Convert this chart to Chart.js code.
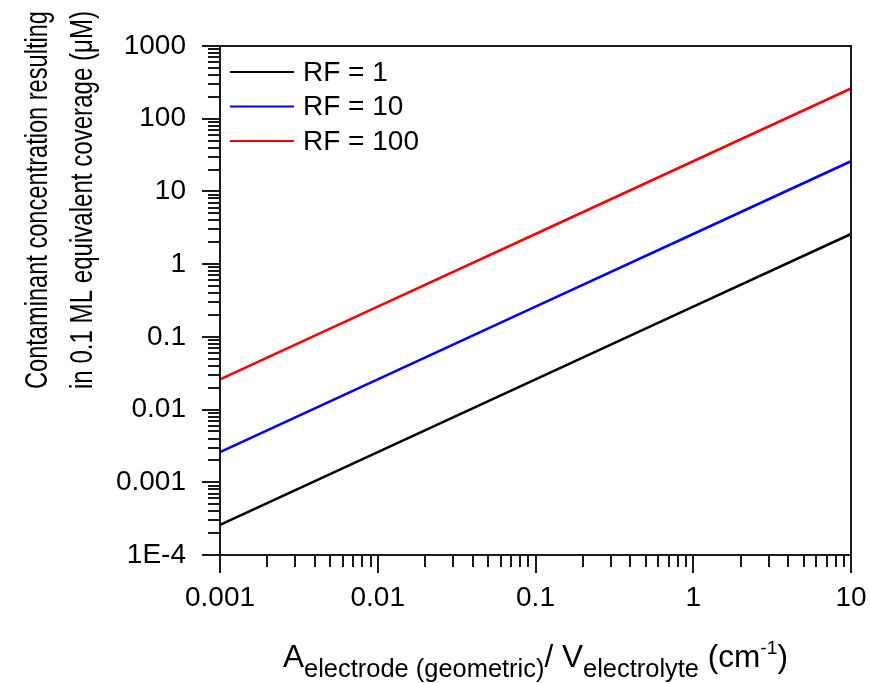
<!DOCTYPE html>
<html>
<head>
<meta charset="utf-8">
<script src="https://cdn.jsdelivr.net/npm/chart.js@4/dist/chart.umd.min.js"></script>
<style>
  html, body { margin: 0; padding: 0; background: #fff; }
  #wrap { width: 870px; height: 683px; }
</style>
</head>
<body>
<div id="wrap"><canvas id="c" width="870" height="683"></canvas></div>
<script>
// x values (A/V, cm^-1) and read-off concentrations (uM)
const xValues = [0.001, 0.01, 0.1, 1, 10];
const rf1 = [0.00026, 0.0026, 0.026, 0.26, 2.6];
const rf10 = [0.0026, 0.026, 0.26, 2.6, 26];
const rf100 = [0.026, 0.26, 2.6, 26, 260];
const seriesLabels = ['RF = 1', 'RF = 10', 'RF = 100'];
const seriesColors = ['#000000', '#0000ff', '#ff0000'];

const xDecades = [-3, -2, -1, 0, 1];
const xTickLabels = ['0.001', '0.01', '0.1', '1', '10'];
const yDecades = [-4, -3, -2, -1, 0, 1, 2, 3];
const yTickLabels = ['1E-4', '0.001', '0.01', '0.1', '1', '10', '100', '1000'];

const yTitleLines = ['Contaminant concentration resulting', 'in 0.1 ML equivalent coverage (\u03bcM)'];

const FONT = "'Liberation Sans', Arial, sans-serif";

function toPoints(ys) {
    return xValues.map((x, i) => ({ x: x, y: ys[i] }));
}

function logTicks(decades) {
    const out = [];
    decades.forEach((d, i) => {
        const base = Math.pow(10, d);
        const last = i === decades.length - 1;
        for (let m = 1; m <= (last ? 1 : 9); m++) out.push({ value: m * base, major: m === 1 });
    });
    return out;
}

function labelFor(value, decades, labels) {
    const l = Math.log10(value);
    const r = Math.round(l);
    if (Math.abs(l - r) > 1e-6) return '';
    const idx = decades.indexOf(r);
    return idx === -1 ? '' : labels[idx];
}

// frame, tick marks, legend and the axis titles
const decorPlugin = {
    id: 'decor',
    afterDraw(chart) {
        const ctx = chart.ctx;
        const a = chart.chartArea;
        const xs = chart.scales.x, ys = chart.scales.y;
        ctx.save();
        ctx.strokeStyle = '#1a1a1a';
        ctx.lineWidth = 2;
        ctx.strokeRect(a.left, a.top, a.right - a.left, a.bottom - a.top);

        ctx.beginPath();
        xs.ticks.forEach(t => {
            const px = Math.round(xs.getPixelForValue(t.value));
            const len = t.major ? 18 : 12;
            ctx.moveTo(px, a.bottom);
            ctx.lineTo(px, a.bottom + len);
        });
        ys.ticks.forEach(t => {
            const py = Math.round(ys.getPixelForValue(t.value));
            const len = t.major ? 18 : 12;
            ctx.moveTo(a.left, py);
            ctx.lineTo(a.left - len, py);
        });
        ctx.stroke();

        // legend
        ctx.font = '28px ' + FONT;
        ctx.textBaseline = 'middle';
        ctx.textAlign = 'left';
        chart.data.datasets.forEach((ds, i) => {
            const y = a.top + 26 + i * 34.5;
            ctx.strokeStyle = ds.borderColor;
            ctx.lineWidth = 2;
            ctx.beginPath();
            ctx.moveTo(a.left + 10, y);
            ctx.lineTo(a.left + 74, y);
            ctx.stroke();
            ctx.fillStyle = '#000';
            ctx.fillText(ds.label, a.left + 83, y + 1);
        });

        // y title (two rotated lines, squeezed to the reference width)
        ctx.fillStyle = '#000';
        ctx.font = '32px ' + FONT;
        const yCenters = [38, 83];
        yTitleLines.forEach((line, i) => {
            const w = ctx.measureText(line).width;
            ctx.save();
            ctx.translate(yCenters[i], 200);
            ctx.rotate(-Math.PI / 2);
            ctx.scale(378 / w, 1);
            ctx.textAlign = 'center';
            ctx.textBaseline = 'middle';
            ctx.fillText(line, 0, 0);
            ctx.restore();
        });

        // x title with sub/superscripts
        const parts = [
            { t: 'A', size: 31, dy: 0 },
            { t: 'electrode (geometric)', size: 25, dy: 10 },
            { t: '/ V', size: 31, dy: 0 },
            { t: 'electrolyte', size: 25, dy: 10 },
            { t: ' (cm', size: 31, dy: 0 },
            { t: '-1', size: 19, dy: -13 },
            { t: ')', size: 31, dy: 0 }
        ];
        let total = 0;
        parts.forEach(p => { ctx.font = p.size + 'px ' + FONT; p.w = ctx.measureText(p.t).width; total += p.w; });
        const target = 505;
        const sx = target / total;
        const cx = (a.left + a.right) / 2;
        ctx.save();
        ctx.translate(cx - target / 2, 667);
        ctx.scale(sx, 1);
        ctx.textAlign = 'left';
        ctx.textBaseline = 'alphabetic';
        let x = 0;
        parts.forEach(p => {
            ctx.font = p.size + 'px ' + FONT;
            ctx.fillText(p.t, x, p.dy);
            x += p.w;
        });
        ctx.restore();
        ctx.restore();
    }
};

new Chart(document.getElementById('c').getContext('2d'), {
    type: 'line',
    data: {
        datasets: [
            { label: seriesLabels[0], data: toPoints(rf1), borderColor: seriesColors[0] },
            { label: seriesLabels[1], data: toPoints(rf10), borderColor: seriesColors[1] },
            { label: seriesLabels[2], data: toPoints(rf100), borderColor: seriesColors[2] }
        ].map(d => Object.assign(d, { borderWidth: 2.6, pointRadius: 0, tension: 0, fill: false }))
    },
    options: {
        responsive: false,
        animation: false,
        layout: { padding: { left: 0, top: 46, right: 19, bottom: 0 } },
        plugins: { legend: { display: false }, tooltip: { enabled: false } },
        scales: {
            x: {
                type: 'logarithmic',
                min: 0.001,
                max: 10,
                grid: { display: false },
                border: { display: false },
                afterBuildTicks: s => { s.ticks = logTicks(xDecades); },
                afterFit: s => { s.height = 128; s.paddingLeft = 0; s.paddingRight = 0; },
                ticks: {
                    autoSkip: false,
                    maxRotation: 0,
                    padding: 18,
                    color: '#000',
                    font: { family: FONT, size: 28 },
                    callback: v => labelFor(v, xDecades, xTickLabels)
                }
            },
            y: {
                type: 'logarithmic',
                min: 0.0001,
                max: 1000,
                grid: { display: false },
                border: { display: false },
                afterBuildTicks: s => { s.ticks = logTicks(yDecades); },
                afterFit: s => { s.width = 220; s.paddingTop = 0; s.paddingBottom = 0; },
                ticks: {
                    autoSkip: false,
                    padding: 26,
                    color: '#000',
                    font: { family: FONT, size: 28 },
                    callback: v => labelFor(v, yDecades, yTickLabels)
                }
            }
        }
    },
    plugins: [decorPlugin]
});
</script>
</body>
</html>
